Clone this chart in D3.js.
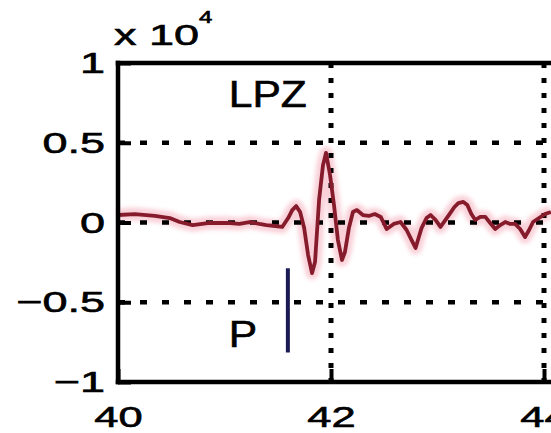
<!DOCTYPE html>
<html>
<head>
<meta charset="utf-8">
<script src="https://cdn.jsdelivr.net/npm/d3@7"></script>
<style>
  html, body { margin: 0; padding: 0; background: #fff; overflow: hidden; }
  text { font-family: "Liberation Sans", Arial, Helvetica, sans-serif; fill: #000; stroke: #000; stroke-width: 0.6px; }
</style>
</head>
<body>
<svg id="chart" width="551" height="433"></svg>
<script>
// Vertical-component (LPZ) trace around the P arrival, amplitude in counts
const timeSec = [
  40.000, 40.159, 40.346, 40.486, 40.579, 40.701, 40.860, 41.019, 41.140, 41.234,
  41.327, 41.393, 41.477, 41.542, 41.598, 41.636, 41.673, 41.710, 41.748, 41.785,
  41.822, 41.850, 41.888, 41.925, 41.953, 41.991, 42.028, 42.065, 42.103, 42.131,
  42.168, 42.206, 42.243, 42.299, 42.355, 42.411, 42.467, 42.523, 42.589, 42.654,
  42.710, 42.757, 42.794, 42.822, 42.850, 42.897, 42.935, 42.981, 43.028, 43.075,
  43.121, 43.159, 43.196, 43.243, 43.280, 43.318, 43.355, 43.402, 43.449, 43.495,
  43.542, 43.589, 43.636, 43.682, 43.729, 43.776, 43.822, 43.860, 43.897, 43.953,
  44.009, 44.065
];
const countsLPZ = [
   470,   530,   410,   280,    30,  -160,   -30,   -30,   -90,    30,
   -90,  -160,  -220,  -280,   280,   780,  1030,   660,  -350, -2040,
 -3170, -2480,  1410,  3600,  4360,  2980,  1100, -1100, -2350, -1850,
  -350,   660,   780,   470,   410,   530,   350,  -410,   -90,    30,
  -470, -1100, -1600,  -970,  -350,   280,   470,   160,  -280,   160,
   600,   970,  1220,  1290,  1100,   530,   160,   350,   350,   -30,
  -410,  -160,    30,   -90,   -90,  -410,  -910,  -470,    30,   280,
   530,   660
];

// Axis ticks and labels
const xTicks = [40, 42, 44];
const xTickLabels = ["40", "42", "44"];
const yTicks = [-10000, -5000, 0, 5000, 10000];
const yTickLabels = ["\u22121", "\u22120.5", "0", "0.5", "1"];
const xGrid = [42, 44];
const yGrid = [-5000, 0, 5000];

// P-phase pick: time and vertical extent of the marker (counts)
const pPickTime = [41.595];
const pPickSpan = [-2870, -8150];

// Text annotations: label, time, amplitude (baseline)
const noteText = ["LPZ", "P"];
const noteTime = [41.04, 41.04];
const noteAmp = [7240, -7810];

const svg = d3.select("#chart");
const W = 551, H = 433;
svg.append("rect").attr("width", W).attr("height", H).attr("fill", "#fff");

const x = d3.scaleLinear().domain([40, 44]).range([118, 544]);
const y = d3.scaleLinear().domain([-10000, 10000]).range([382, 63]);
const xRight = 600; // axes box continues past the window edge

const defs = svg.append("defs");
defs.append("filter").attr("id", "soft")
  .attr("x", "-10%").attr("y", "-20%").attr("width", "120%").attr("height", "140%")
  .append("feGaussianBlur").attr("stdDeviation", 2.2);

const trace = timeSec.map((t, i) => ({ t, a: countsLPZ[i] }));
const line = d3.line().x(d => x(d.t)).y(d => y(d.a));

// Soft pink halo under the trace
svg.append("path").datum(trace)
  .attr("d", line)
  .attr("fill", "none")
  .attr("stroke", "#f6b8c4")
  .attr("stroke-width", 13)
  .attr("stroke-linejoin", "round")
  .attr("opacity", 0.65)
  .attr("filter", "url(#soft)");

// Dotted grid
svg.append("g").selectAll("line").data(yGrid).join("line")
  .attr("x1", x(40)).attr("x2", xRight)
  .attr("y1", d => y(d)).attr("y2", d => y(d))
  .attr("stroke", "#000").attr("stroke-width", 4.5)
  .attr("stroke-dasharray", "7,15");
svg.append("g").selectAll("line").data(xGrid).join("line")
  .attr("x1", d => x(d)).attr("x2", d => x(d))
  .attr("y1", y(10000)).attr("y2", y(-10000))
  .attr("stroke", "#000").attr("stroke-width", 5)
  .attr("stroke-dasharray", "5,10");

// Seismogram trace
svg.append("path").datum(trace)
  .attr("d", line)
  .attr("fill", "none")
  .attr("stroke", "#861b2c")
  .attr("stroke-width", 3.8)
  .attr("stroke-linejoin", "round");

// P pick marker
const pData = pPickTime.map(t => ({ t, a0: pPickSpan[0], a1: pPickSpan[1] }));
svg.append("g").selectAll("line").data(pData).join("line")
  .attr("x1", d => x(d.t)).attr("x2", d => x(d.t))
  .attr("y1", d => y(d.a0)).attr("y2", d => y(d.a1))
  .attr("stroke", "#d8dcf5").attr("stroke-width", 10).attr("opacity", 0.6)
  .attr("filter", "url(#soft)");
svg.append("g").selectAll("line").data(pData).join("line")
  .attr("x1", d => x(d.t)).attr("x2", d => x(d.t))
  .attr("y1", d => y(d.a0)).attr("y2", d => y(d.a1))
  .attr("stroke", "#1b1a55").attr("stroke-width", 4);

// Annotations
noteText.forEach((s, i) => {
  svg.append("text")
    .attr("transform", `translate(${x(noteTime[i])},${y(noteAmp[i])}) scale(1.15,1)`)
    .attr("font-size", 37)
    .text(s);
});

// Axes (ticks point inward)
const sx = 1.5;
const yAxis = d3.axisLeft(y).tickValues(yTicks)
  .tickFormat((d, i) => yTickLabels[i]).tickSize(-13).tickPadding(0);
const gy = svg.append("g").attr("transform", `translate(${x(40)},0)`).call(yAxis);
gy.select(".domain").remove();
gy.selectAll(".tick line").attr("stroke", "#000").attr("stroke-width", 4);
gy.selectAll(".tick text")
  .attr("font-size", 30).attr("font-family", null)
  .attr("text-anchor", "end")
  .attr("x", -13 / sx).attr("dy", "0.32em")
  .attr("transform", `scale(${sx},1)`);

const xAxis = d3.axisBottom(x).tickValues(xTicks)
  .tickFormat((d, i) => xTickLabels[i]).tickSize(-13).tickPadding(0);
const gx = svg.append("g").attr("transform", `translate(0,${y(-10000)})`).call(xAxis);
gx.select(".domain").remove();
gx.selectAll(".tick line").attr("stroke", "#000").attr("stroke-width", 4);
gx.selectAll(".tick text")
  .attr("font-size", 29).attr("font-family", null)
  .attr("text-anchor", "middle")
  .attr("y", 45).attr("dy", 0)
  .attr("transform", `scale(${sx},1)`);

// Axes box (left, top, bottom)
const box = svg.append("g").attr("stroke", "#000").attr("stroke-width", 4.5)
  .attr("stroke-linecap", "square");
box.append("line").attr("x1", x(40)).attr("x2", x(40)).attr("y1", y(10000)).attr("y2", y(-10000));
box.append("line").attr("x1", x(40)).attr("x2", xRight).attr("y1", y(10000)).attr("y2", y(10000));
box.append("line").attr("x1", x(40)).attr("x2", xRight).attr("y1", y(-10000)).attr("y2", y(-10000));

// Exponent label above the y axis
const expo = svg.append("text")
  .attr("transform", `translate(114,45) scale(${sx},1)`)
  .attr("font-size", 30);
expo.append("tspan").text("x 10");
expo.append("tspan").attr("font-size", 16).attr("dy", -22).text("4");
</script>
</body>
</html>
